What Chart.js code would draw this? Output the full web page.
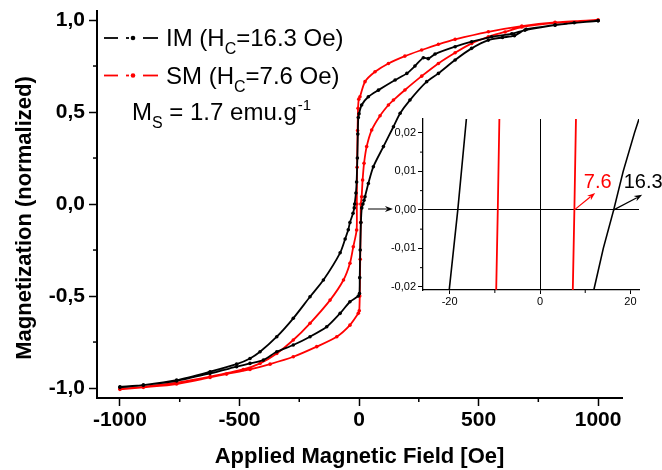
<!DOCTYPE html>
<html>
<head>
<meta charset="utf-8">
<script src="https://cdn.jsdelivr.net/npm/chart.js@4.4.0/dist/chart.umd.min.js"></script>
<style>
  html, body { margin: 0; padding: 0; background: #fff; }
  #wrap { position: relative; width: 662px; height: 470px; overflow: hidden; }
  #main { position: absolute; left: 0; top: 0; }
  #inset { position: absolute; left: 380px; top: 110px; }
</style>
</head>
<body>
<div id="wrap">
  <canvas id="main" width="662" height="470"></canvas>
  <canvas id="inset" width="282" height="200"></canvas>
</div>
<script>
// Coercive fields reported for the two samples (Oe)
const hcIM = 16.3;
const hcSM = 7.6;

// IM sample: ascending branch (-1000 -> +1000 Oe) and descending branch (+1000 -> -1000 Oe)
const imFieldUp = [-1000, -902, -763, -623, -512, -456, -414, -344, -275, -205, -149, -79, -58, -45, -38, -25, -20, -18.2, -13, -10, -7, -5, -3, 0, 11, 39, 81, 151, 200, 234, 269, 290, 318, 402, 471, 555, 639, 694, 820, 1000];
const imMagUp   = [-0.996, -0.984, -0.957, -0.911, -0.870, -0.839, -0.803, -0.721, -0.621, -0.504, -0.413, -0.265, -0.19, -0.14, -0.10, -0.05, -0.021, 0, 0.06, 0.12, 0.25, 0.38, 0.47, 0.49, 0.538, 0.583, 0.619, 0.674, 0.71, 0.75, 0.795, 0.79, 0.815, 0.855, 0.882, 0.909, 0.925, 0.945, 0.973, 0.996];
const imFieldDown = [1000, 900, 820, 700, 650, 600, 541, 471, 402, 332, 283, 213, 172, 144, 102, 60, 39, 25, 20.9, hcIM, 11.5, 8, 5, 3, 2, -3, -38, -79, -135, -205, -275, -344, -400, -456, -512, -623, -763, -902, -1000];
const imMagDown   = [0.996, 0.985, 0.972, 0.950, 0.915, 0.905, 0.891, 0.846, 0.783, 0.71, 0.665, 0.565, 0.493, 0.42, 0.312, 0.203, 0.112, 0.04, 0.02, 0, -0.021, -0.1, -0.25, -0.4, -0.486, -0.5, -0.531, -0.594, -0.667, -0.721, -0.766, -0.803, -0.848, -0.866, -0.884, -0.920, -0.961, -0.984, -0.993];

// SM sample: ascending and descending branches
const smFieldUp = [-1000, -902, -763, -623, -484, -414, -344, -275, -205, -121, -65, -38, -24, -10, -9.3, -8, -6, -4, -1, 4, 25, 67, 123, 192, 262, 332, 402, 541, 681, 820, 1000];
const smMagUp   = [-1.005, -0.993, -0.971, -0.938, -0.899, -0.866, -0.812, -0.739, -0.648, -0.522, -0.413, -0.322, -0.232, -0.141, 0, 0.2, 0.4, 0.52, 0.57, 0.583, 0.665, 0.719, 0.764, 0.804, 0.837, 0.868, 0.895, 0.936, 0.967, 0.987, 1.0];
const smFieldDown = [1000, 820, 681, 611, 541, 471, 402, 332, 262, 192, 144, 123, 88, 53, 32, 21, 15, 11, hcSM, 7, 5, 3, 1, -3, -38, -93, -177, -275, -372, -456, -554, -623, -763, -902, -1000];
const smMagDown   = [1.0, 0.985, 0.962, 0.935, 0.909, 0.873, 0.822, 0.764, 0.695, 0.62, 0.565, 0.538, 0.48, 0.402, 0.312, 0.221, 0.130, 0.04, 0, -0.1, -0.3, -0.5, -0.58, -0.594, -0.658, -0.721, -0.775, -0.830, -0.870, -0.899, -0.924, -0.942, -0.978, -0.996, -1.007];

// Zoom around M = 0 (inset)
const insetImLeftField  = [-20.1, -18.2, -16.3];
const insetImLeftMag    = [-0.0208, 0, 0.0236];
const insetImRightField = [11.9, 14.0, hcIM, 18.4, 20.9, 21.9];
const insetImRightMag   = [-0.0208, -0.01, 0, 0.01, 0.02, 0.0236];
const insetSmLeftField  = [-9.7, -9.35, -9.0];
const insetSmLeftMag    = [-0.0208, 0, 0.0236];
const insetSmRightField = [7.25, hcSM, 7.95];
const insetSmRightMag   = [-0.0208, 0, 0.0236];

// Tick values
const mainFieldTicks = [-1000, -500, 0, 500, 1000];
const mainFieldMinor = [-750, -250, 250, 750];
const mainMagTicks = [-1, -0.5, 0, 0.5, 1];
const mainMagMinor = [-0.75, -0.25, 0.25, 0.75];
const insetFieldTicks = [-20, 0, 20];
const insetFieldMinor = [-10, 10];
const insetMagTicks = [-0.02, -0.01, 0, 0.01, 0.02];
const insetMagMinor = [-0.015, -0.005, 0.005, 0.015];

const FONT = '"Liberation Sans", Arial, Helvetica, sans-serif';
const RED = '#ff0000';

const toXY = (xs, ys) => xs.map((x, i) => ({ x: x, y: ys[i] }));
const comma = (v, d) => v.toFixed(d).replace('.', ',');

function seg(ctx, x1, y1, x2, y2) {
  ctx.beginPath(); ctx.moveTo(x1, y1); ctx.lineTo(x2, y2); ctx.stroke();
}
function arrow(ctx, x1, y1, x2, y2, color, lw) {
  const a = Math.atan2(y2 - y1, x2 - x1), L = 8, W = 3;
  const bx = x2 - L * Math.cos(a), by = y2 - L * Math.sin(a);
  ctx.save();
  ctx.strokeStyle = color; ctx.fillStyle = color; ctx.lineWidth = lw;
  seg(ctx, x1, y1, bx + 2 * Math.cos(a), by + 2 * Math.sin(a));
  ctx.beginPath();
  ctx.moveTo(x2, y2);
  ctx.lineTo(bx - W * Math.sin(a), by + W * Math.cos(a));
  ctx.lineTo(bx + 2.5 * Math.cos(a), by + 2.5 * Math.sin(a));
  ctx.lineTo(bx + W * Math.sin(a), by - W * Math.cos(a));
  ctx.closePath(); ctx.fill();
  ctx.restore();
}
function txt(ctx, s, x, y, size, weight) {
  ctx.font = (weight || '') + ' ' + size + 'px ' + FONT;
  ctx.fillText(s, x, y);
  return x + ctx.measureText(s).width;
}

// Legend, y-axis title, minor ticks and pointer arrow for the main panel
const mainDecor = {
  id: 'mainDecor',
  afterDraw(chart) {
    const ctx = chart.ctx, xs = chart.scales.x, ys = chart.scales.y, a = chart.chartArea;
    ctx.save();
    ctx.strokeStyle = '#000'; ctx.lineWidth = 1.5;
    mainFieldMinor.forEach(v => { const p = xs.getPixelForValue(v); seg(ctx, p, a.bottom, p, a.bottom + 4); });
    mainMagMinor.forEach(v => { const p = ys.getPixelForValue(v); seg(ctx, a.left - 4, p, a.left, p); });

    // y-axis title
    ctx.save();
    ctx.translate(25, 218); ctx.rotate(-Math.PI / 2);
    ctx.fillStyle = '#000'; ctx.textAlign = 'center'; ctx.textBaseline = 'middle';
    ctx.font = 'bold 22px ' + FONT;
    ctx.fillText('Magnetization (normalized)', 0, 0);
    ctx.restore();

    // legend entries
    const rows = [
      { color: '#000', y: 38, name: 'IM', hc: hcIM },
      { color: RED, y: 75.5, name: 'SM', hc: hcSM }
    ];
    ctx.textBaseline = 'alphabetic'; ctx.textAlign = 'left';
    rows.forEach(r => {
      ctx.strokeStyle = r.color; ctx.fillStyle = r.color; ctx.lineWidth = 1.8;
      seg(ctx, 104, r.y, 118, r.y);
      seg(ctx, 126, r.y, 129, r.y);
      seg(ctx, 143, r.y, 158, r.y);
      ctx.beginPath(); ctx.arc(133, r.y, 2.3, 0, Math.PI * 2); ctx.fill();
      ctx.fillStyle = '#000';
      const base = r.y + 8;
      let x = txt(ctx, r.name + ' (H', 166, base, 24);
      x = txt(ctx, 'C', x, base + 8, 16);
      txt(ctx, '=' + r.hc.toFixed(1) + ' Oe)', x, base, 24);
    });
    ctx.fillStyle = '#000';
    let x = txt(ctx, 'M', 132, 120, 24);
    x = txt(ctx, 'S', x, 128, 16);
    x = txt(ctx, ' = 1.7 emu.g', x, 120, 24);
    txt(ctx, '-1', x + 1, 110, 15);

    // pointer towards the inset zero line
    arrow(ctx, xs.getPixelForValue(38), ys.getPixelForValue(-0.027),
               xs.getPixelForValue(142), ys.getPixelForValue(-0.027), '#000', 1);
    ctx.restore();
  }
};

new Chart(document.getElementById('main'), {
  type: 'scatter',
  data: {
    datasets: [
      {
        label: 'IM',
        data: toXY(imFieldUp, imMagUp).concat(toXY(imFieldDown, imMagDown)),
        showLine: true, borderColor: '#000', backgroundColor: '#000',
        borderWidth: 1.8, pointRadius: 1.8, pointBorderWidth: 0,
        pointBackgroundColor: '#000', tension: 0.25, order: 0
      },
      {
        label: 'SM',
        data: toXY(smFieldUp, smMagUp).concat(toXY(smFieldDown, smMagDown)),
        showLine: true, borderColor: RED, backgroundColor: RED,
        borderWidth: 1.8, pointRadius: 1.8, pointBorderWidth: 0,
        pointBackgroundColor: RED, tension: 0.25, order: 1
      }
    ]
  },
  options: {
    responsive: false, animation: false,
    layout: { padding: { top: 11, right: 40, left: 0, bottom: 0 } },
    plugins: { legend: { display: false }, tooltip: { enabled: false } },
    scales: {
      x: {
        type: 'linear', min: -1096, max: 1100,
        afterBuildTicks: s => { s.ticks = mainFieldTicks.map(v => ({ value: v })); },
        afterFit: s => { s.height = 72; s.paddingLeft = 0; s.paddingRight = 0; },
        grid: { drawOnChartArea: false, drawTicks: true, tickLength: 8, tickColor: '#000', tickWidth: 1.5 },
        border: { display: true, color: '#000', width: 2 },
        ticks: {
          color: '#000', font: { family: FONT, size: 21, weight: 'bold' },
          padding: 2, maxRotation: 0, autoSkip: false,
          callback: v => String(v)
        },
        title: {
          display: true, text: 'Applied Magnetic Field [Oe]', color: '#000',
          font: { family: FONT, size: 22, weight: 'bold' }, padding: { top: 5, bottom: 0 }
        }
      },
      y: {
        type: 'linear', min: -1.054, max: 1.049,
        afterBuildTicks: s => { s.ticks = mainMagTicks.map(v => ({ value: v })); },
        afterFit: s => { s.width = 97; s.paddingTop = 0; s.paddingBottom = 0; },
        grid: { drawOnChartArea: false, drawTicks: true, tickLength: 8, tickColor: '#000', tickWidth: 1.5 },
        border: { display: true, color: '#000', width: 2 },
        ticks: {
          color: '#000', font: { family: FONT, size: 21, weight: 'bold' },
          padding: 4, autoSkip: false,
          callback: v => comma(v, 1)
        }
      }
    }
  },
  plugins: [mainDecor]
});

// Minor ticks, arrows and coercivity labels for the inset
const insetDecor = {
  id: 'insetDecor',
  afterDraw(chart) {
    const ctx = chart.ctx, xs = chart.scales.x, ys = chart.scales.y, a = chart.chartArea;
    ctx.save();
    ctx.strokeStyle = '#000'; ctx.lineWidth = 1;
    insetFieldMinor.forEach(v => { const p = xs.getPixelForValue(v); seg(ctx, p, a.bottom, p, a.bottom + 3); });
    insetMagMinor.forEach(v => { const p = ys.getPixelForValue(v); seg(ctx, a.left - 3, p, a.left, p); });

    arrow(ctx, xs.getPixelForValue(hcSM), ys.getPixelForValue(0),
               xs.getPixelForValue(12.2), ys.getPixelForValue(0.0044), RED, 1.2);
    arrow(ctx, xs.getPixelForValue(hcIM), ys.getPixelForValue(0),
               xs.getPixelForValue(22.6), ys.getPixelForValue(0.0039), '#000', 1.2);

    ctx.textBaseline = 'middle'; ctx.textAlign = 'left';
    ctx.fillStyle = RED;
    txt(ctx, hcSM.toFixed(1), xs.getPixelForValue(9.7), ys.getPixelForValue(0.0070), 20);
    ctx.fillStyle = '#000';
    txt(ctx, hcIM.toFixed(1), xs.getPixelForValue(18.5), ys.getPixelForValue(0.0070), 20);
    ctx.restore();
  }
};

const zeroLine = c => (c.tick && c.tick.value === 0 ? '#000' : 'rgba(0,0,0,0)');

new Chart(document.getElementById('inset'), {
  type: 'scatter',
  data: {
    datasets: [
      { data: toXY(insetImLeftField, insetImLeftMag), showLine: true, borderColor: '#000', borderWidth: 1.6, pointRadius: 0 },
      { data: toXY(insetImRightField, insetImRightMag), showLine: true, borderColor: '#000', borderWidth: 1.6, pointRadius: 0 },
      { data: toXY(insetSmLeftField, insetSmLeftMag), showLine: true, borderColor: RED, borderWidth: 1.8, pointRadius: 0 },
      { data: toXY(insetSmRightField, insetSmRightMag), showLine: true, borderColor: RED, borderWidth: 1.8, pointRadius: 0 }
    ]
  },
  options: {
    responsive: false, animation: false,
    layout: { padding: { top: 9, right: 23, left: 0, bottom: 0 } },
    plugins: { legend: { display: false }, tooltip: { enabled: false } },
    scales: {
      x: {
        type: 'linear', min: -25.9, max: 21.9,
        afterBuildTicks: s => { s.ticks = insetFieldTicks.map(v => ({ value: v })); },
        afterFit: s => { s.height = 20; s.paddingLeft = 0; s.paddingRight = 0; },
        grid: { drawOnChartArea: true, color: zeroLine, lineWidth: 1, drawTicks: true, tickLength: 4, tickColor: '#000', tickWidth: 1 },
        border: { display: true, color: '#000', width: 1.3 },
        ticks: {
          color: '#000', font: { family: FONT, size: 11 }, padding: 1,
          maxRotation: 0, autoSkip: false, callback: v => String(v)
        }
      },
      y: {
        type: 'linear', min: -0.0208, max: 0.0236,
        afterBuildTicks: s => { s.ticks = insetMagTicks.map(v => ({ value: v })); },
        afterFit: s => { s.width = 43; s.paddingTop = 0; s.paddingBottom = 0; },
        grid: { drawOnChartArea: true, color: zeroLine, lineWidth: 1, drawTicks: true, tickLength: 5, tickColor: '#000', tickWidth: 1 },
        border: { display: true, color: '#000', width: 1.3 },
        ticks: {
          color: '#000', font: { family: FONT, size: 11 }, padding: 2,
          autoSkip: false, callback: v => comma(v, 2)
        }
      }
    }
  },
  plugins: [insetDecor]
});
</script>
</body>
</html>
